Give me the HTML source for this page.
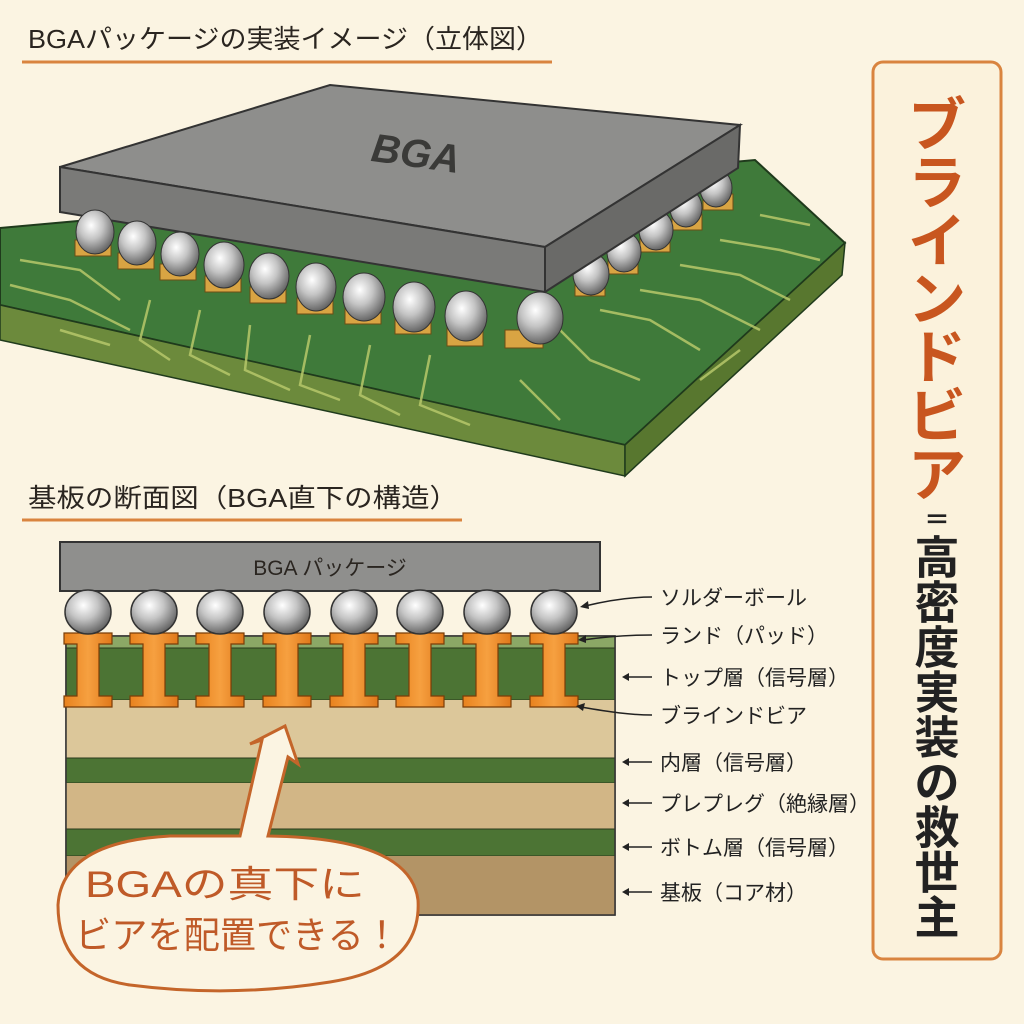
<!DOCTYPE html>
<html><head><meta charset="utf-8"><style>
html,body{margin:0;padding:0;background:#fbf4e2;}
svg{display:block;font-family:"Liberation Sans","Noto Sans CJK JP",sans-serif;}
</style></head><body>
<svg width="1024" height="1024" viewBox="0 0 1024 1024" xmlns="http://www.w3.org/2000/svg">
<defs>
<radialGradient id="ball" cx="0.4" cy="0.35" r="0.7">
<stop offset="0" stop-color="#ffffff"/><stop offset="0.45" stop-color="#c4c4c4"/><stop offset="1" stop-color="#5a5a5a"/>
</radialGradient>
<linearGradient id="via" x1="0" x2="1"><stop offset="0" stop-color="#e8821e"/><stop offset="0.5" stop-color="#f6a040"/><stop offset="1" stop-color="#e0781a"/></linearGradient>
</defs>
<rect width="1024" height="1024" fill="#fbf4e2"/>

<text x="28" y="48" font-size="26" fill="#2a2520" textLength="515" lengthAdjust="spacingAndGlyphs">BGAパッケージの実装イメージ（立体図）</text>
<line x1="22" y1="62" x2="552" y2="62" stroke="#d9843f" stroke-width="3"/>

<polygon points="0,228 755,160 845,243 625,445 0,305" fill="#3f7a3a" stroke="#1f3a1c" stroke-width="2"/>
<polygon points="0,305 625,445 625,476 0,340" fill="#6c8a3c" stroke="#1f3a1c" stroke-width="1.5"/>
<polygon points="625,445 845,243 842,275 625,476" fill="#58772f" stroke="#1f3a1c" stroke-width="1.5"/>
<g stroke="#b7c86a" stroke-width="2.5" fill="none" opacity="0.85">
<path d="M20,260 L80,270 L120,300"/><path d="M10,285 L70,300 L130,330"/>
<path d="M150,300 L140,340 L170,360"/><path d="M200,310 L190,355 L230,375"/>
<path d="M250,325 L245,370 L290,390"/><path d="M310,335 L300,385 L340,400"/>
<path d="M370,345 L360,395 L400,415"/><path d="M430,355 L420,405 L470,425"/>
<path d="M560,330 L590,360 L640,380"/><path d="M600,310 L650,320 L700,350"/>
<path d="M640,290 L700,300 L760,330"/><path d="M680,265 L740,275 L790,300"/>
<path d="M720,240 L780,250 L820,260"/><path d="M760,215 L810,225"/>
<path d="M60,330 L110,345"/><path d="M520,380 L560,420"/><path d="M700,380 L740,350"/>
</g>
<g fill="#d9a443" stroke="#6b4d14" stroke-width="1">
<rect x="575" y="280" width="30" height="16"/><rect x="608" y="258" width="30" height="16"/>
<rect x="640" y="236" width="30" height="16"/><rect x="672" y="214" width="30" height="16"/><rect x="703" y="194" width="30" height="16"/>
</g>
<g fill="url(#ball)" stroke="#333" stroke-width="1">
<ellipse cx="716" cy="188" rx="16" ry="19"/><ellipse cx="686" cy="208" rx="16" ry="19"/>
<ellipse cx="656" cy="230" rx="17" ry="20"/><ellipse cx="624" cy="252" rx="17" ry="20"/>
<ellipse cx="591" cy="274" rx="18" ry="21"/>
</g>
<g fill="#d9a443" stroke="#6b4d14" stroke-width="1">
<rect x="75" y="240" width="36" height="16"/><rect x="118" y="253" width="36" height="16"/>
<rect x="160" y="264" width="36" height="16"/><rect x="205" y="276" width="36" height="16"/>
<rect x="250" y="287" width="36" height="16"/><rect x="297" y="298" width="36" height="16"/>
<rect x="345" y="308" width="36" height="16"/><rect x="395" y="318" width="36" height="16"/>
<rect x="447" y="328" width="36" height="18"/><rect x="505" y="330" width="38" height="18"/>
</g>
<polygon points="60,167 330,85 740,125 545,247" fill="#8e8e8c" stroke="#333" stroke-width="2"/>
<polygon points="60,167 545,247 545,292 60,212" fill="#7a7a78" stroke="#333" stroke-width="2"/>
<polygon points="545,247 740,125 738,168 545,292" fill="#6a6a68" stroke="#333" stroke-width="2"/>
<text x="415" y="167" font-size="40" font-weight="bold" fill="#3a3a38" font-style="italic" text-anchor="middle" transform="rotate(8 415 160)">BGA</text>
<g fill="url(#ball)" stroke="#333" stroke-width="1">
<ellipse cx="95" cy="232" rx="19" ry="22"/><ellipse cx="137" cy="243" rx="19" ry="22"/>
<ellipse cx="180" cy="254" rx="19" ry="22"/><ellipse cx="224" cy="265" rx="20" ry="23"/>
<ellipse cx="269" cy="276" rx="20" ry="23"/><ellipse cx="316" cy="287" rx="20" ry="24"/>
<ellipse cx="364" cy="297" rx="21" ry="24"/><ellipse cx="414" cy="307" rx="21" ry="25"/>
<ellipse cx="466" cy="316" rx="21" ry="25"/><ellipse cx="540" cy="318" rx="23" ry="26"/>
</g>

<text x="28" y="507" font-size="26" fill="#2a2520" textLength="430" lengthAdjust="spacingAndGlyphs">基板の断面図（BGA直下の構造）</text>
<line x1="22" y1="520" x2="462" y2="520" stroke="#d9843f" stroke-width="3"/>

<rect x="60" y="542" width="540" height="49" fill="#8f8f8d" stroke="#333" stroke-width="2"/>
<text x="330" y="575" font-size="21" fill="#2a2520" text-anchor="middle">BGA パッケージ</text>
<rect x="66" y="636" width="549" height="279" fill="#a88a5e" stroke="#333" stroke-width="1.5"/>
<rect x="66" y="636" width="549" height="12" fill="#8ba866"/>
<rect x="66" y="648" width="549" height="52" fill="#4c7434" stroke="#2a3a1c" stroke-width="1"/>
<rect x="66" y="700" width="549" height="58" fill="#dcc79a"/>
<rect x="66" y="758" width="549" height="25" fill="#4c7434" stroke="#2a3a1c" stroke-width="1"/>
<rect x="66" y="783" width="549" height="46" fill="#d2b686"/>
<rect x="66" y="829" width="549" height="27" fill="#4c7434" stroke="#2a3a1c" stroke-width="1"/>
<rect x="66" y="856" width="549" height="59" fill="#b39466"/>
<rect x="66" y="636" width="549" height="279" fill="none" stroke="#333" stroke-width="1.5"/>
<g stroke="#7a3d08" stroke-width="1.2" fill="url(#via)">
<path d="M64,633h48v11h-13v52h13v11h-48v-11h13v-52h-13z"/>
<path d="M130,633h48v11h-13v52h13v11h-48v-11h13v-52h-13z"/>
<path d="M196,633h48v11h-13v52h13v11h-48v-11h13v-52h-13z"/>
<path d="M263,633h48v11h-13v52h13v11h-48v-11h13v-52h-13z"/>
<path d="M330,633h48v11h-13v52h13v11h-48v-11h13v-52h-13z"/>
<path d="M396,633h48v11h-13v52h13v11h-48v-11h13v-52h-13z"/>
<path d="M463,633h48v11h-13v52h13v11h-48v-11h13v-52h-13z"/>
<path d="M530,633h48v11h-13v52h13v11h-48v-11h13v-52h-13z"/>
</g>
<g fill="url(#ball)" stroke="#333" stroke-width="1.5">
<ellipse cx="88" cy="612" rx="23" ry="22"/><ellipse cx="154" cy="612" rx="23" ry="22"/>
<ellipse cx="220" cy="612" rx="23" ry="22"/><ellipse cx="287" cy="612" rx="23" ry="22"/>
<ellipse cx="354" cy="612" rx="23" ry="22"/><ellipse cx="420" cy="612" rx="23" ry="22"/>
<ellipse cx="487" cy="612" rx="23" ry="22"/><ellipse cx="554" cy="612" rx="23" ry="22"/>
</g>
<g stroke="#222" stroke-width="1.5" fill="none">
<path d="M652,597 C630,597 610,600 585,606"/>
<path d="M652,635 C630,635 610,636 583,640"/>
<path d="M652,715 C630,715 610,712 581,707"/>
<line x1="626" y1="677" x2="652" y2="677"/><line x1="626" y1="762" x2="652" y2="762"/>
<line x1="626" y1="803" x2="652" y2="803"/><line x1="626" y1="847" x2="652" y2="847"/>
<line x1="626" y1="892" x2="652" y2="892"/>
</g>
<g fill="#222">
<path d="M580,607 l8,-6 l1,8z"/><path d="M578,640 l8,-5 l0,8z"/><path d="M576,706 l9,-3 l-2,8z"/>
<path d="M622,677 l7,-4 v8z"/><path d="M622,762 l7,-4 v8z"/><path d="M622,803 l7,-4 v8z"/>
<path d="M622,847 l7,-4 v8z"/><path d="M622,892 l7,-4 v8z"/>
</g>
<g font-size="21" fill="#222">
<text x="660" y="605">ソルダーボール</text>
<text x="660" y="643">ランド（パッド）</text>
<text x="660" y="685">トップ層（信号層）</text>
<text x="660" y="723">ブラインドビア</text>
<text x="660" y="770">内層（信号層）</text>
<text x="660" y="811">プレプレグ（絶縁層）</text>
<text x="660" y="855">ボトム層（信号層）</text>
<text x="660" y="900">基板（コア材）</text>
</g>

<path d="M240,836 L262,740 L250,744 L285,726 L298,764 L288,757 L268,836 Q410,838 418,900 Q422,968 330,982 Q230,998 130,985 Q58,975 58,905 Q62,842 170,836 Z" fill="#fbf4e2" stroke="#c4652a" stroke-width="3"/>
<text x="85" y="897" font-size="37" fill="#bf5a28" textLength="280" lengthAdjust="spacingAndGlyphs">BGAの真下に</text>
<text x="75" y="948" font-size="37" fill="#bf5a28" textLength="325" lengthAdjust="spacingAndGlyphs">ビアを配置できる！</text>

<rect x="873" y="62" width="128" height="897" rx="10" fill="#fbf2dc" stroke="#d9843f" stroke-width="3"/>
<g font-size="58" fill="#c8561f" font-weight="bold" text-anchor="middle" dominant-baseline="central">
<text x="937" y="126">ブ</text><text x="937" y="184">ラ</text><text x="937" y="242">イ</text>
<text x="937" y="300">ン</text><text x="937" y="358">ド</text><text x="937" y="417">ビ</text><text x="937" y="476">ア</text>
</g>
<text x="937" y="520" font-size="26" fill="#222" font-weight="bold" text-anchor="middle" dominant-baseline="central">＝</text>
<g font-size="45" fill="#222" font-weight="bold" text-anchor="middle" dominant-baseline="central">
<text x="937" y="558">高</text><text x="937" y="603">密</text><text x="937" y="648">度</text>
<text x="937" y="693">実</text><text x="937" y="738">装</text><text x="937" y="783">の</text>
<text x="937" y="828">救</text><text x="937" y="873">世</text><text x="937" y="918">主</text>
</g>
</svg>
</body></html>
